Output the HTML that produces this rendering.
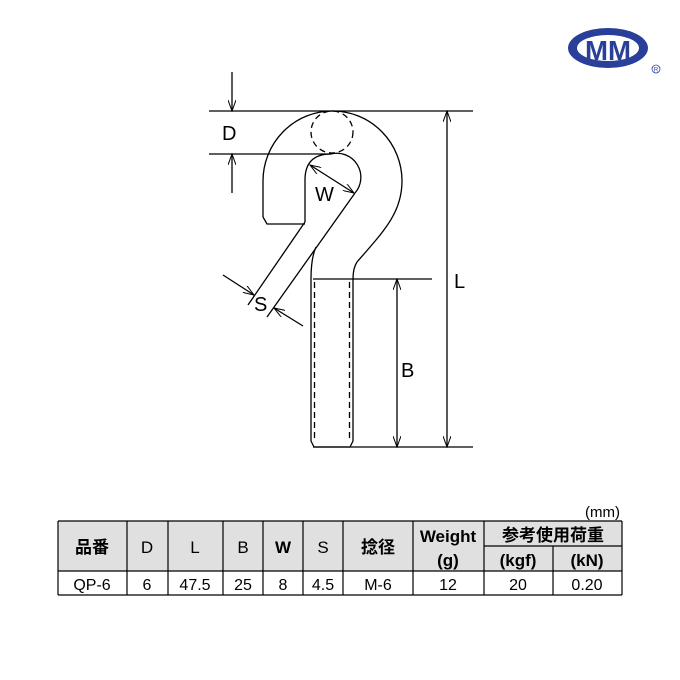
<!DOCTYPE html>
<html><head><meta charset="utf-8"><style>
body{margin:0;background:#fff;}
svg{display:block;}
text{font-family:"Liberation Sans","Noto Sans CJK JP",sans-serif;}
</style></head><body>
<svg width="680" height="680" viewBox="0 0 680 680" xmlns="http://www.w3.org/2000/svg">
<defs>
<marker id="a" markerWidth="12" markerHeight="8" refX="11" refY="4" orient="auto" markerUnits="userSpaceOnUse">
<path d="M0,0 L11,4 L0,8" fill="none" stroke="#000" stroke-width="1"/></marker>
<marker id="b" markerWidth="12" markerHeight="8" refX="1" refY="4" orient="auto" markerUnits="userSpaceOnUse">
<path d="M12,0 L1,4 L12,8" fill="none" stroke="#000" stroke-width="1"/></marker>
</defs>
<g stroke="#000" stroke-width="1.3" fill="none">
<line x1="209" y1="111" x2="473" y2="111"/>
<line x1="209" y1="154" x2="330" y2="154"/>
<line x1="313" y1="279" x2="432" y2="279"/>
<line x1="313" y1="447" x2="473" y2="447"/>
<line x1="232" y1="72" x2="232" y2="111" marker-end="url(#a)"/>
<line x1="232" y1="193" x2="232" y2="154" marker-end="url(#a)"/>
<line x1="447" y1="111" x2="447" y2="447" marker-start="url(#b)" marker-end="url(#a)"/>
<line x1="397" y1="279" x2="397" y2="447" marker-start="url(#b)" marker-end="url(#a)"/>
<path d="M263,217 L263,181 A69.5,70 0 0 1 332.5,111 A69.5,70 0 0 1 402,181 C402,212 385,230 357,262 Q353,268 353,279 L353,441 L350,447 L314,447 L311,441 L311,279 Q311,258 316,247"/>
<path d="M263,217 L267,224 L305,224"/>
<path d="M305,222 L305,180 Q305,154 331,154 A24,24 0 0 1 355,193"/>
<line x1="305" y1="222" x2="248" y2="305"/>
<line x1="355" y1="193" x2="267" y2="317"/>
<line x1="314.5" y1="282" x2="314.5" y2="441" stroke-dasharray="6,4"/>
<line x1="349.5" y1="282" x2="349.5" y2="441" stroke-dasharray="6,4"/>
<circle cx="332" cy="132" r="21" stroke-dasharray="6,4"/>
<line x1="310" y1="165" x2="354" y2="193" marker-start="url(#b)" marker-end="url(#a)"/>
<line x1="223" y1="275" x2="254" y2="295" marker-end="url(#a)"/>
<line x1="303" y1="326" x2="274" y2="308" marker-end="url(#a)"/>
</g>
<g font-size="20" fill="#000">
<text x="222" y="140">D</text>
<text x="315" y="201">W</text>
<text x="254" y="311">S</text>
<text x="454" y="288">L</text>
<text x="401" y="377">B</text>
</g>
<ellipse cx="608" cy="48" rx="40" ry="20" fill="#2a3f9a"/>
<ellipse cx="608" cy="48" rx="31" ry="13" fill="#fff"/>
<text x="608" y="60" font-size="28" font-weight="bold" fill="#2a3f9a" text-anchor="middle" textLength="46" lengthAdjust="spacingAndGlyphs">MM</text>
<circle cx="656" cy="69" r="4" fill="none" stroke="#2a3f9a" stroke-width="0.8"/>
<text x="656" y="71.5" font-size="6" fill="#2a3f9a" text-anchor="middle">R</text>
<text x="620" y="517" font-size="15" text-anchor="end">(mm)</text>
<rect x="58" y="521" width="564" height="50" fill="#e0e0e0"/>
<g stroke="#000" stroke-width="1.2">
<line x1="58" y1="521" x2="622" y2="521"/>
<line x1="484" y1="546" x2="622" y2="546"/>
<line x1="58" y1="571" x2="622" y2="571"/>
<line x1="58" y1="595" x2="622" y2="595"/>
<line x1="58" y1="521" x2="58" y2="595"/>
<line x1="127" y1="521" x2="127" y2="595"/>
<line x1="168" y1="521" x2="168" y2="595"/>
<line x1="223" y1="521" x2="223" y2="595"/>
<line x1="263" y1="521" x2="263" y2="595"/>
<line x1="303" y1="521" x2="303" y2="595"/>
<line x1="343" y1="521" x2="343" y2="595"/>
<line x1="413" y1="521" x2="413" y2="595"/>
<line x1="484" y1="521" x2="484" y2="595"/>
<line x1="553" y1="546" x2="553" y2="595"/>
<line x1="622" y1="521" x2="622" y2="595"/>
</g>
<g font-size="17" text-anchor="middle">
<text x="92" y="553" font-weight="bold">品番</text>
<text x="147" y="553">D</text>
<text x="195" y="553">L</text>
<text x="243" y="553">B</text>
<text x="283" y="553" font-weight="bold">W</text>
<text x="323" y="553">S</text>
<text x="378" y="553" font-weight="bold">捻径</text>
<text x="448" y="542" font-weight="bold">Weight</text>
<text x="448" y="566" font-weight="bold">(g)</text>
<text x="553" y="541" font-weight="bold">参考使用荷重</text>
<text x="518" y="566" font-weight="bold">(kgf)</text>
<text x="587" y="566" font-weight="bold">(kN)</text>
</g>
<g font-size="16" text-anchor="middle">
<text x="92" y="590">QP-6</text>
<text x="147" y="590">6</text>
<text x="195" y="590">47.5</text>
<text x="243" y="590">25</text>
<text x="283" y="590">8</text>
<text x="323" y="590">4.5</text>
<text x="378" y="590">M-6</text>
<text x="448" y="590">12</text>
<text x="518" y="590">20</text>
<text x="587" y="590">0.20</text>
</g>
</svg>
</body></html>
